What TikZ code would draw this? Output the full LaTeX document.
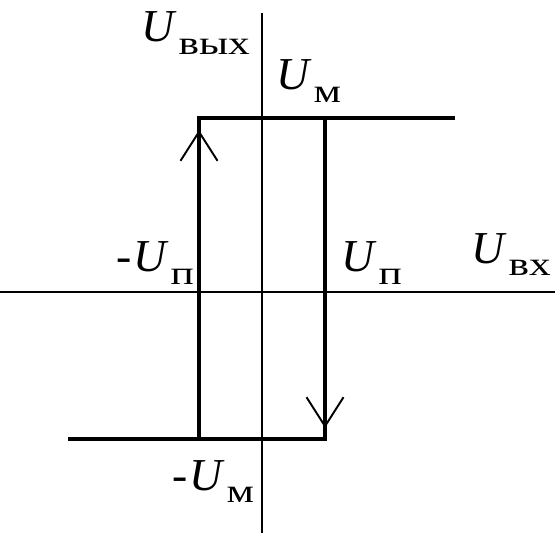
\documentclass[tikz,border=0pt]{standalone}
\usepackage{graphicx}
\usepackage{fontspec}
\setmainfont{Liberation Serif}
\usetikzlibrary{arrows.meta}

\newcommand{\volt}[1]{\textit{U}\kern1pt\raisebox{-7pt}{\scalebox{1.3}[1]{\fontsize{19}{19}\selectfont #1}}}

\begin{document}
\begin{tikzpicture}[
  x=0.02cm, y=-0.02cm,
  axis/.style={line width=1.1pt},
  loopline/.style={line width=2.8pt},
  vee/.style={-{Straight Barb[length=0.58cm, width=0.74cm, line width=1.1pt]}, line width=1.1pt},
  lbl/.style={font=\fontsize{26}{30}\selectfont, inner sep=0pt, anchor=base west},
]
  \useasboundingbox (0,0) rectangle (557,533);

  % Axes
  \coordinate (xl) at (0,292);
  \coordinate (xr) at (555,292);
  \coordinate (yb) at (262,533);
  \coordinate (yt) at (262,13);
  \draw[axis] (xl) -- (xr);
  \draw[axis] (yb) -- (yt);

  % Hysteresis loop
  \coordinate (bl) at (68,439);
  \coordinate (ml) at (199,439);
  \coordinate (br) at (325,439);
  \coordinate (tl) at (199,118);
  \coordinate (mr) at (325,118);
  \coordinate (tr) at (455,118);
  \draw[loopline] (bl) -- (br) -- (mr);
  \draw[loopline] (tr) -- (tl) -- (ml);

  % Direction arrows
  \coordinate (uptip) at (199,130);
  \coordinate (downtip) at (325,428);
  \draw[vee] (ml) -- (uptip);
  \draw[vee] (mr) -- (downtip);

  % Labels
  \node[lbl] (uout) at (141,42) {\volt{вых}};
  \node[lbl] (umax) at (276,90) {\volt{м}};
  \node[lbl] (umin) at (172,490) {-\kern1pt\volt{м}};
  \node[lbl] (uthr) at (341,272) {\volt{п}};
  \node[lbl] (uthl) at (116,272) {-\kern1pt\volt{п}};
  \node[lbl] (uin) at (471,263) {\volt{вх}};

\end{tikzpicture}
\end{document}
